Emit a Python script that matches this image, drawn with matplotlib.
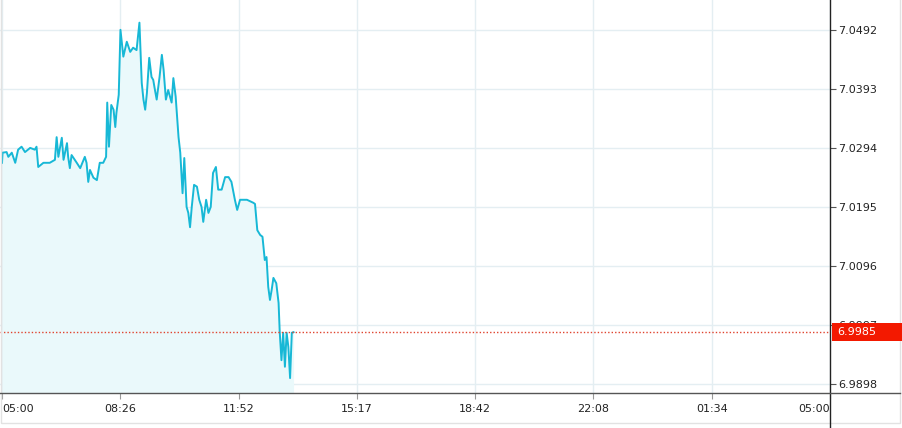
import numpy as np
import matplotlib.pyplot as plt
import matplotlib.transforms as mtransforms
from matplotlib.patches import Rectangle
from matplotlib.lines import Line2D

# ==============================================================================
# Data (minutes since 05:00, price)
#
minutes = [
    0, 1, 8, 11, 17, 23, 28, 34, 40, 49, 57, 60, 63, 72, 83, 92, 95, 98,
    104, 107, 113, 115, 118, 121, 130, 136, 144, 147, 150, 153, 159, 165,
    170, 176, 181, 183, 186, 190, 194, 197, 199, 203, 206, 211, 217, 223,
    228, 234, 239, 243, 246, 249, 252, 256, 260, 263, 266, 269, 274, 278,
    281, 285, 289, 295, 298, 302, 307, 310, 314, 317, 321, 324, 327, 330,
    334, 339, 343, 347, 350, 355, 359, 363, 367, 372, 376, 382, 388, 394,
    399, 405, 409, 414, 426, 437, 440, 444, 449, 453, 457, 460, 463, 466,
    469, 472, 477, 481, 483, 486, 489, 492, 495, 498, 501, 504, 507,
]
prices = [
    7.0269, 7.0286, 7.0287, 7.0279, 7.0286, 7.0269, 7.0291, 7.0296, 7.0287,
    7.0294, 7.0291, 7.0296, 7.0262, 7.0269, 7.0269, 7.0274, 7.0312, 7.0279,
    7.0311, 7.0274, 7.0302, 7.0279, 7.0260, 7.0282, 7.0269, 7.0260, 7.0279,
    7.0269, 7.0237, 7.0257, 7.0244, 7.0240, 7.0269, 7.0269, 7.0279, 7.0370,
    7.0296, 7.0366, 7.0358, 7.0329, 7.0353, 7.0383, 7.0492, 7.0447, 7.0472,
    7.0455, 7.0462, 7.0458, 7.0504, 7.0403, 7.0375, 7.0358, 7.0386, 7.0445,
    7.0413, 7.0408, 7.0391, 7.0375, 7.0413, 7.0450, 7.0425, 7.0375, 7.0391,
    7.0370, 7.0411, 7.0380, 7.0312, 7.0286, 7.0218, 7.0277, 7.0195, 7.0185,
    7.0161, 7.0195, 7.0232, 7.0229, 7.0207, 7.0195, 7.0170, 7.0207, 7.0185,
    7.0195, 7.0252, 7.0262, 7.0224, 7.0224, 7.0245, 7.0245, 7.0237, 7.0207,
    7.0190, 7.0207, 7.0207, 7.0202, 7.0200, 7.0156, 7.0148, 7.0145, 7.0106,
    7.0111, 7.0061, 7.0039, 7.0056, 7.0076, 7.0067, 7.0034, 6.9985, 6.9938,
    6.9984, 6.9927, 6.9984, 6.9960, 6.9908, 6.9984, 6.9985,
]
current_price = 6.9985
y_ticks = [6.9898, 6.9997, 7.0096, 7.0195, 7.0294, 7.0393, 7.0492]
x_tick_labels = ['05:00', '08:26', '11:52', '15:17', '18:42', '22:08', '01:34', '05:00']

# ==============================================================================
# Constants
#
W, H = 902, 428
AXIS_X = 830          # right price axis position, px
AXIS_Y = 393          # time axis position, px from top
LINE_COLOR = '#17b8d6'
FILL_COLOR = '#eaf9fb'
GRID_COLOR = '#e4eef2'
RED = '#f31900'
TEXT_COLOR = '#222222'

# ==============================================================================
# Plot
#
fig = plt.figure(figsize=(W/100, H/100), dpi=100)
ax = fig.add_axes([0, (H-AXIS_Y)/H, AXIS_X/W, AXIS_Y/H])

y_low, y_high = 6.9883, 7.0542
ax.set_ylim(y_low, y_high)
ax.set_xlim(-3.5, 1440)

ax.fill_between(minutes, prices, y_low, color=FILL_COLOR, lw=0, zorder=1)
ax.plot(minutes, prices, color=LINE_COLOR, lw=1.4, zorder=3)
ax.axhline(current_price, color='#e0432e', lw=1, ls=(0, (1, 1.5)), zorder=4)

x_ticks = np.linspace(0, 1440, len(x_tick_labels))
ax.set_xticks(x_ticks)
ax.set_xticklabels(x_tick_labels)
ax.set_yticks(y_ticks)
ax.set_yticklabels(['%.4f' % v for v in y_ticks])
ax.yaxis.tick_right()
ax.grid(True, color=GRID_COLOR, lw=1, zorder=0)
ax.set_axisbelow(True)
ax.tick_params(axis='y', direction='out', length=4, width=0.8, color='#555555',
               labelsize=8, labelcolor=TEXT_COLOR, pad=2)
ax.tick_params(axis='x', direction='out', length=4, width=0.8, color='#999999',
               labelsize=8, labelcolor=TEXT_COLOR, pad=4)
labels = ax.get_xticklabels()
labels[0].set_ha('left')
labels[-1].set_ha('right')
for side in ['top', 'left', 'right', 'bottom']:
    ax.spines[side].set_visible(False)

# axis lines, drawn in figure pixels
fig.add_artist(Line2D([AXIS_X/W, AXIS_X/W], [0, 1], color='#222222', lw=1,
                      transform=fig.transFigure))
fig.add_artist(Line2D([0, 900/W], [(H-AXIS_Y)/H, (H-AXIS_Y)/H], color='#555555',
                      lw=1, transform=fig.transFigure))
# outer light frame
fig.add_artist(Rectangle((0.5/W, 5/H), 899.5/W, 1, fill=False,
                         edgecolor='#e2e2e2', lw=1, transform=fig.transFigure))

# current price label
blend = mtransforms.blended_transform_factory(fig.transFigure, ax.transData)
box_h = 18*(y_high - y_low)/AXIS_Y
fig.add_artist(Rectangle((832/W, current_price - box_h/2), 70/W, box_h,
                         facecolor=RED, edgecolor='none', transform=blend,
                         zorder=10))
fig.text(837/W, 0, '%.4f' % current_price, color='white', fontsize=8,
         va='center', ha='left', transform=blend, zorder=11,
         ).set_y(current_price)

plt.savefig('out.png', dpi=100)
